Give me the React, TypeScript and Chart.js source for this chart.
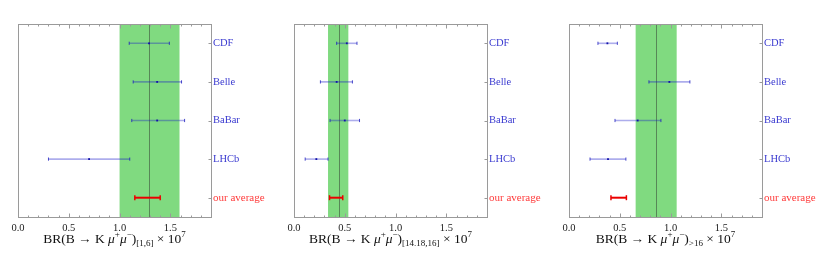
import React, { useEffect, useRef } from 'react';
import { Chart, registerables } from 'chart.js';

Chart.register(...registerables);

// ---------- data ----------
const experiments = ['CDF', 'Belle', 'BaBar', 'LHCb', 'our average'];
const labelColors = ['#3a3ad0', '#3a3ad0', '#3a3ad0', '#3a3ad0', '#ff3a3a'];
const xTickValues = [0, 0.5, 1.0, 1.5];
const xMin = 0;
const xMax = 1.9;

// bin [1,6]
const bin1Central = [1.29, 1.37, 1.37, 0.70, 1.275];
const bin1Low = [1.095, 1.134, 1.12, 0.30, 1.15];
const bin1High = [1.49, 1.61, 1.64, 1.10, 1.40];
const bin1Band = [1.0, 1.59];
const bin1Mean = 1.29;
const bin1Sub = '[1,6]';

// bin [14.18,16]
const bin2Central = [0.52, 0.42, 0.50, 0.22, 0.41];
const bin2Low = [0.42, 0.26, 0.355, 0.11, 0.35];
const bin2High = [0.62, 0.575, 0.645, 0.335, 0.48];
const bin2Band = [0.335, 0.535];
const bin2Mean = 0.44;
const bin2Sub = '[14.18,16]';

// bin >16
const bin3Central = [0.378, 0.988, 0.676, 0.384, 0.49];
const bin3Low = [0.285, 0.787, 0.453, 0.207, 0.413];
const bin3High = [0.476, 1.19, 0.905, 0.56, 0.565];
const bin3Band = [0.656, 1.06];
const bin3Mean = 0.856;
const bin3Sub = '>16';

const panels = [
  { central: bin1Central, low: bin1Low, high: bin1High, band: bin1Band, mean: bin1Mean, sub: bin1Sub },
  { central: bin2Central, low: bin2Low, high: bin2High, band: bin2Band, mean: bin2Mean, sub: bin2Sub },
  { central: bin3Central, low: bin3Low, high: bin3High, band: bin3Band, mean: bin3Mean, sub: bin3Sub },
];

const SERIF = "'Liberation Serif', 'DejaVu Serif', serif";
const CANVAS_W = 263;
const CANVAS_H = 260;
const PLOT_LEFT = 10;
const PLOT_TOP = 16;
const PLOT_W = 193;
const PLOT_H = 193;

type Seg = { text: string; font: string; dy: number };

function Panel({ data }: { data: typeof panels[number] }) {
  const ref = useRef<HTMLCanvasElement | null>(null);

  useEffect(() => {
    if (!ref.current) return;
    const n = experiments.length;
    const datasets: any[] = [];

    // the green band + mean line
    const bandPlugin = {
      id: 'band',
      beforeDatasetsDraw(chart: any) {
        const { ctx, chartArea, scales } = chart;
        const x0 = scales.x.getPixelForValue(data.band[0]);
        const x1 = scales.x.getPixelForValue(data.band[1]);
        const xm = scales.x.getPixelForValue(data.mean);
        ctx.save();
        ctx.fillStyle = 'rgb(128,218,128)';
        ctx.fillRect(x0, chartArea.top, x1 - x0, chartArea.bottom - chartArea.top);
        ctx.strokeStyle = 'rgba(70,100,70,0.7)';
        ctx.lineWidth = 1;
        ctx.beginPath();
        ctx.moveTo(Math.round(xm) + 0.5, chartArea.top);
        ctx.lineTo(Math.round(xm) + 0.5, chartArea.bottom);
        ctx.stroke();
        ctx.restore();
      },
    };

    // frame with inward ticks + rich axis title
    const framePlugin = {
      id: 'frame',
      afterDatasetsDraw(chart: any) {
        const { ctx, chartArea, scales } = chart;
        const l = Math.round(chartArea.left) + 0.5;
        const r = Math.round(chartArea.right) + 0.5;
        const t = Math.round(chartArea.top) + 0.5;
        const b = Math.round(chartArea.bottom) + 0.5;
        ctx.save();
        ctx.strokeStyle = '#9a9a9a';
        ctx.lineWidth = 1;
        ctx.strokeRect(l, t, r - l, b - t);
        ctx.beginPath();
        for (let k = 0; k <= 19; k++) {
          const v = k / 10;
          if (v > xMax + 1e-9) break;
          const px = Math.round(scales.x.getPixelForValue(v)) + 0.5;
          const major = k % 5 === 0;
          const len = major ? 4 : 2;
          ctx.moveTo(px, b);
          ctx.lineTo(px, b - len);
          ctx.moveTo(px, t);
          ctx.lineTo(px, t + len);
        }
        for (let i = 0; i < n; i++) {
          const py = Math.round(scales.y.getPixelForValue(i + 1)) + 0.5;
          ctx.moveTo(r, py);
          ctx.lineTo(r - 3, py);
        }
        ctx.stroke();

        // axis title
        const big = `13.5px ${SERIF}`;
        const bigIt = `italic 13.5px ${SERIF}`;
        const small = `9px ${SERIF}`;
        const segs: Seg[] = [
          { text: 'BR(B \u2192 K ', font: big, dy: 0 },
          { text: '\u03BC', font: bigIt, dy: 0 },
          { text: '+', font: small, dy: -5.5 },
          { text: '\u03BC', font: bigIt, dy: 0 },
          { text: '\u2212', font: small, dy: -5.5 },
          { text: ')', font: big, dy: 0 },
          { text: data.sub, font: small, dy: 3.5 },
          { text: ' \u00D7 10', font: big, dy: 0 },
          { text: '7', font: small, dy: -6 },
        ];
        let total = 0;
        for (const s of segs) {
          ctx.font = s.font;
          total += ctx.measureText(s.text).width;
        }
        let x = (chartArea.left + chartArea.right) / 2 - total / 2;
        const baseY = chartArea.bottom + 25.5;
        ctx.fillStyle = '#111';
        ctx.textBaseline = 'alphabetic';
        ctx.textAlign = 'left';
        for (const s of segs) {
          ctx.font = s.font;
          ctx.fillText(s.text, x, baseY + s.dy);
          x += ctx.measureText(s.text).width;
        }
        ctx.restore();
      },
    };

    // experimental error bars
    for (let i = 0; i < n - 1; i++) {
      datasets.push({
        type: 'scatter',
        showLine: true,
        data: [
          { x: data.low[i], y: i + 1 },
          { x: data.high[i], y: i + 1 },
        ],
        borderColor: 'rgba(20,20,200,0.35)',
        borderWidth: 1.6,
        pointStyle: 'line',
        rotation: 90,
        pointRadius: 1.6,
        pointBorderColor: 'rgba(30,30,190,0.8)',
        pointBorderWidth: 1,
        pointBackgroundColor: 'rgba(30,30,190,0.8)',
      });
    }
    // central values
    datasets.push({
      type: 'scatter',
      data: data.central.slice(0, n - 1).map((v, i) => ({ x: v, y: i + 1 })),
      pointStyle: 'rect',
      pointRadius: 1.3,
      pointBackgroundColor: '#10109a',
      pointBorderColor: '#10109a',
      pointBorderWidth: 0,
    });
    // our average
    datasets.push({
      type: 'scatter',
      showLine: true,
      data: [
        { x: data.low[n - 1], y: n },
        { x: data.high[n - 1], y: n },
      ],
      borderColor: 'rgb(235,0,0)',
      borderWidth: 2,
      pointStyle: 'line',
      rotation: 90,
      pointRadius: 2.5,
      pointBorderColor: 'rgb(235,0,0)',
      pointBorderWidth: 1.5,
    });

    const chart = new Chart(ref.current, {
      type: 'scatter',
      data: { datasets },
      options: {
        responsive: false,
        animation: false,
        events: [],
        layout: { padding: { left: PLOT_LEFT, top: PLOT_TOP, right: 0, bottom: 0 } },
        plugins: { legend: { display: false }, tooltip: { enabled: false }, title: { display: false } },
        scales: {
          x: {
            type: 'linear',
            position: 'bottom',
            min: xMin,
            max: xMax,
            border: { display: false },
            grid: { display: false, drawTicks: false },
            afterBuildTicks: (scale: any) => {
              scale.ticks = xTickValues.map((v) => ({ value: v }));
            },
            afterFit: (scale: any) => {
              scale.height = CANVAS_H - PLOT_TOP - PLOT_H;
              scale.paddingLeft = 0;
              scale.paddingRight = 0;
            },
            ticks: {
              autoSkip: false,
              maxRotation: 0,
              padding: 5,
              color: '#222',
              font: { family: SERIF, size: 10.5 },
              callback: (v: any) => Number(v).toFixed(1),
            },
          },
          y: {
            type: 'linear',
            position: 'right',
            min: 0.5,
            max: n + 0.5,
            reverse: true,
            border: { display: false },
            grid: { display: false, drawTicks: false },
            afterBuildTicks: (scale: any) => {
              scale.ticks = experiments.map((_, i) => ({ value: i + 1 }));
            },
            afterFit: (scale: any) => {
              scale.width = CANVAS_W - PLOT_LEFT - PLOT_W;
              scale.paddingTop = 0;
              scale.paddingBottom = 0;
            },
            ticks: {
              autoSkip: false,
              padding: 2,
              font: (ctx: any) => ({ family: SERIF, size: ctx.index === 4 ? 11 : 10.5 }),
              color: (ctx: any) => labelColors[ctx.index] ?? '#3a3ad0',
              callback: (v: any) => experiments[Math.round(Number(v)) - 1] ?? '',
            },
          },
        },
      },
      plugins: [bandPlugin, framePlugin],
    } as any);

    return () => chart.destroy();
  }, [data]);

  return <canvas ref={ref} width={CANVAS_W} height={CANVAS_H} style={{ display: 'block', width: CANVAS_W, height: CANVAS_H }} />;
}

export default function App() {
  const lefts = [0, 275.5, 551];
  return (
    <div style={{ position: 'relative', width: 814, height: CANVAS_H, background: '#fff' }}>
      {panels.map((p, i) => (
        <div key={i} style={{ position: 'absolute', left: lefts[i], top: 0, width: CANVAS_W, height: CANVAS_H }}>
          <Panel data={p} />
        </div>
      ))}
    </div>
  );
}
